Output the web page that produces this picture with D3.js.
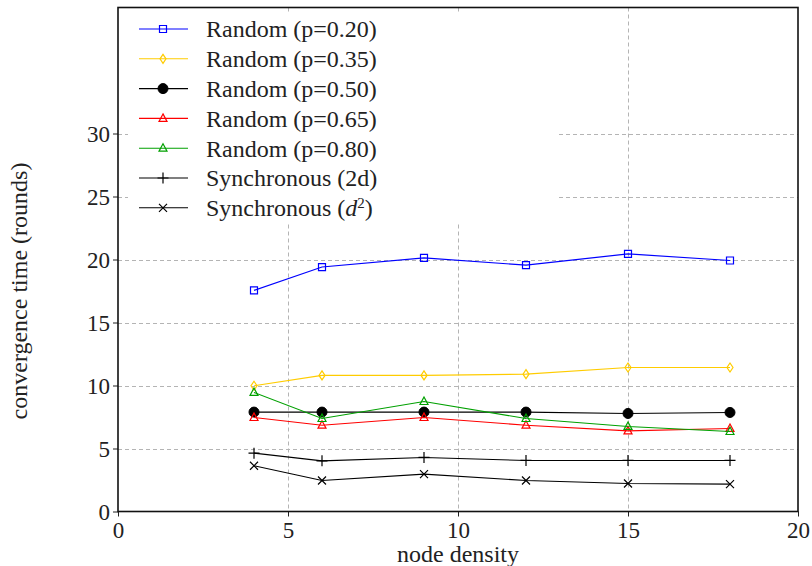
<!DOCTYPE html>
<html>
<head>
<meta charset="utf-8">
<script src="https://cdn.jsdelivr.net/npm/d3@7"></script>
<style>
  html, body { margin: 0; padding: 0; background: #fff; }
  svg { display: block; }
  text { font-family: "Liberation Serif", "DejaVu Serif", serif; fill: #222; }
</style>
</head>
<body>
<svg id="chart" width="812" height="566"></svg>
<script>
// node density values measured
const densities = [4, 6, 9, 12, 15, 18];

// convergence time (rounds) per protocol variant
const randomP20 = [17.55, 19.40, 20.13, 19.55, 20.45, 19.92];
const randomP35 = [9.98, 10.80, 10.80, 10.90, 11.43, 11.43];
const randomP50 = [7.89, 7.89, 7.89, 7.89, 7.78, 7.86];
const randomP65 = [7.46, 6.85, 7.46, 6.85, 6.40, 6.59];
const randomP80 = [9.45, 7.38, 8.73, 7.38, 6.75, 6.35];
const sync2d    = [4.63, 4.02, 4.29, 4.05, 4.05, 4.05];
const syncD2    = [3.63, 2.46, 2.97, 2.46, 2.22, 2.17];

const xTicks = [0, 5, 10, 15, 20];
const yTicks = [0, 5, 10, 15, 20, 25, 30];

const series = [
  { name: "Random (p=0.20)", values: randomP20, color: "#0000ff", marker: "square" },
  { name: "Random (p=0.35)", values: randomP35, color: "#ffcc00", marker: "diamond" },
  { name: "Random (p=0.50)", values: randomP50, color: "#000000", marker: "circle" },
  { name: "Random (p=0.65)", values: randomP65, color: "#ff0000", marker: "triangle" },
  { name: "Random (p=0.80)", values: randomP80, color: "#00a000", marker: "triangle" },
  { name: "Synchronous (2d)", values: sync2d, color: "#000000", marker: "plus" },
  { name: "Synchronous (d2)", values: syncD2, color: "#000000", marker: "cross" }
];

const svg = d3.select("#chart");
const plot = { left: 118, right: 798, top: 7.5, bottom: 511.5 };

const x = d3.scaleLinear().domain([0, 20]).range([plot.left, plot.right]);
const y = d3.scaleLinear().domain([0, 40]).range([plot.bottom, plot.top]);

// dashed grid
const grid = svg.append("g").attr("stroke", "#b4b4b4").attr("stroke-width", 1)
  .attr("stroke-dasharray", "4,3");
grid.selectAll("line.v").data(xTicks.slice(1, -1)).join("line")
  .attr("x1", d => Math.round(x(d)) + 0.5).attr("x2", d => Math.round(x(d)) + 0.5)
  .attr("y1", plot.top).attr("y2", plot.bottom);
grid.selectAll("line.h").data(yTicks.slice(1)).join("line")
  .attr("x1", plot.left).attr("x2", plot.right)
  .attr("y1", d => Math.round(y(d)) + 0.5).attr("y2", d => Math.round(y(d)) + 0.5);

// marker shapes
function markerPath(type) {
  switch (type) {
    case "square": return "M-3.5,-3.5H3.5V3.5H-3.5Z";
    case "diamond": return "M0,-4.5L3,0L0,4.5L-3,0Z";
    case "triangle": return "M0,-4.5L4,3L-4,3Z";
    case "plus": return "M-5.5,0H5.5M0,-5.5V5.5";
    case "cross": return "M-4,-4L4,4M-4,4L4,-4";
    default: return null;
  }
}
function drawMarker(g, type, color) {
  if (type === "circle") {
    g.append("circle").attr("r", 5).attr("fill", color).attr("stroke", color);
  } else {
    g.append("path").attr("d", markerPath(type))
      .attr("fill", "none")
      .attr("stroke", color).attr("stroke-width", 1.2);
  }
}

const line = d3.line().x(d => x(d[0])).y(d => y(d[1]));
const seriesG = svg.append("g");
series.forEach(s => {
  const pts = densities.map((d, i) => [d, s.values[i]]);
  seriesG.append("path").datum(pts).attr("d", line)
    .attr("fill", "none").attr("stroke", s.color).attr("stroke-width", 1.1);
  pts.forEach(p => {
    const g = seriesG.append("g").attr("transform", `translate(${x(p[0])},${y(p[1])})`);
    drawMarker(g, s.marker, s.color);
  });
});

// axes with outward ticks
const xAxis = d3.axisBottom(x).tickValues(xTicks).tickSize(5).tickPadding(4).tickFormat(d3.format("d"));
const yAxis = d3.axisLeft(y).tickValues(yTicks).tickSize(5).tickPadding(3).tickFormat(d3.format("d"));
const gx = svg.append("g").attr("transform", `translate(0,${plot.bottom})`).call(xAxis);
const gy = svg.append("g").attr("transform", `translate(${plot.left},0)`).call(yAxis);
[gx, gy].forEach(g => {
  g.select(".domain").remove();
  g.selectAll(".tick line").attr("stroke", "#222").attr("stroke-width", 1);
  g.selectAll(".tick text").attr("font-size", 23).attr("fill", "#222")
    .style("font-family", "'Liberation Serif', serif");
});
gx.selectAll(".tick text").attr("dy", "0.78em");
gy.selectAll(".tick text").attr("dy", "0.36em");

// legend
const legend = svg.append("g");
legend.append("rect").attr("x", 128).attr("y", 14).attr("width", 429).attr("height", 209)
  .attr("fill", "#fff");
const rowY = i => 29 + i * 29.8;
series.forEach((s, i) => {
  const g = legend.append("g").attr("transform", `translate(0,${rowY(i)})`);
  g.append("line").attr("x1", 139).attr("x2", 188).attr("y1", 0).attr("y2", 0)
    .attr("stroke", s.color).attr("stroke-width", 1.1);
  const m = g.append("g").attr("transform", "translate(163,0)");
  drawMarker(m, s.marker, s.color);
  const t = g.append("text").attr("x", 206).attr("y", 0).attr("dy", "0.35em")
    .attr("font-size", 24);
  if (s.name === "Synchronous (d2)") {
    t.append("tspan").text("Synchronous (");
    t.append("tspan").attr("font-style", "italic").text("d");
    t.append("tspan").attr("font-size", 15).attr("dy", "-0.55em").text("2");
    t.append("tspan").attr("dy", "0.35em").text(")");
  } else {
    t.text(s.name);
  }
});

// frame
svg.append("rect").attr("x", plot.left).attr("y", plot.top)
  .attr("width", plot.right - plot.left).attr("height", plot.bottom - plot.top)
  .attr("fill", "none").attr("stroke", "#111").attr("stroke-width", 1.6);

// axis titles
svg.append("text").attr("x", (plot.left + plot.right) / 2).attr("y", 562)
  .attr("text-anchor", "middle").attr("font-size", 24).text("node density");
svg.append("text").attr("transform", "translate(27,291) rotate(-90)")
  .attr("text-anchor", "middle").attr("font-size", 24).text("convergence time (rounds)");
</script>
</body>
</html>
